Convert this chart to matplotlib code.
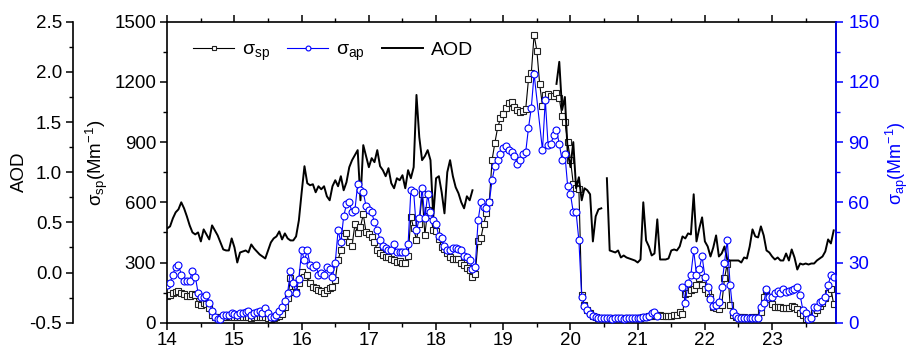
import numpy as np
import matplotlib
matplotlib.use("Agg")
import matplotlib.pyplot as plt
from matplotlib.ticker import MultipleLocator

plt.rcParams['font.family'] = ['Liberation Sans', 'DejaVu Sans']
plt.rcParams['mathtext.fontset'] = 'custom'
plt.rcParams['mathtext.rm'] = 'Liberation Sans'
plt.rcParams['mathtext.it'] = 'Liberation Sans:italic'
plt.rcParams['axes.unicode_minus'] = False

nan = np.nan

# hourly values, one list per day (day 14 ... day 23)
sp_14 = [135, 138, 146, 155, 160, 146, 141, 135, 133, 143, 138, 93, 88, 97, 93, 72, 38, 30, 22, 27, 30, 30, 32, 30]
sp_15 = [30, 28, 28, 30, 28, 26, 25, 27, 28, 30, 28, 26, 22, 20, 22, 26, 35, 42, 80, 121, 221, 155, 155, 200]
sp_16 = [254, 226, 237, 196, 180, 171, 163, 159, 150, 165, 175, 178, 215, 314, 360, 430, 445, 400, 383, 490, 445, 478, 540, 450]
sp_17 = [440, 427, 400, 362, 346, 337, 329, 329, 316, 310, 304, 308, 300, 296, 330, 528, 470, 412, 492, 641, 437, 561, 537, 462]
sp_18 = [458, 415, 379, 365, 346, 326, 316, 316, 316, 299, 287, 271, 265, 226, 245, 409, 420, 492, 548, 603, 811, 897, 973, 1018]
sp_19 = [1038, 1068, 1097, 1101, 1073, 1060, 1051, 1055, 1063, 1213, 1243, 1434, 1355, 1189, 1080, 1135, 1140, 1130, 1130, 1146, 1118, 1030, 1002, 900]
sp_20 = [811, 691, 669, 664, 138, 88, 63, 46, 35, 28, 25, 22, 22, 22, 21, 22, 22, 21, 22, 22, 21, 22, 22, 21]
sp_21 = [22, 25, 28, 30, 33, 35, 38, 38, 36, 35, 34, 35, 35, 36, 38, 55, 44, 141, 150, 163, 166, 190, 221, 188]
sp_22 = [170, 150, 130, 80, 73, 66, 87, 221, 295, 88, 40, 30, 28, 26, 26, 25, 25, 26, 27, 30, 55, 130, 163, 117]
sp_23 = [93, 80, 77, 77, 72, 75, 72, 82, 80, 66, 50, 37, 17, 25, 30, 47, 63, 82, 100, 124, 149, 170, 91]

ap_14 = [19, 20, 24, 28, 29, 24, 21, 21, 21, 26, 23, 15, 13, 13, 14, 10, 6, 3, 2, 2, 4, 4, 4, 5]
ap_15 = [4.5, 4, 5, 5, 5.5, 6, 4, 5, 5.5, 6, 5, 7.5, 5, 3, 3, 4, 6, 8, 11, 15, 26, 20, 15, 22]
ap_16 = [36, 31, 36, 29, 28, 29, 24, 25, 24, 28, 27, 23, 30, 46, 40, 53, 59, 60, 55, 56, 69, 66, 65, 58]
ap_17 = [56, 55, 50, 46, 41, 38, 37, 36, 36, 39, 35, 35, 35, 35, 39, 66, 65, 46, 52, 67, 52, 64, 55, 51]
ap_18 = [49, 43, 42, 38, 36, 36, 37, 37, 36.5, 36, 33, 32.6, 31, 27, 28, 51, 60, 57.5, 57, 60, 71, 78, 81, 84]
ap_19 = [87, 88, 86, 85, 83, 79, 81, 84, 85, 97, 107, 124, nan, nan, 86, 111, 88.5, 89, 93.5, 96, 89, 81, 84, 68]
ap_20 = [64, 55, 55, 41, 13, 8.3, 6.3, 4.3, 3.3, 2.8, 2.5, 2.5, 2.2, 2.2, 2.3, 2.0, 2.2, 2.4, 2.2, 2.0, 2.2, 2.3, 2.1, 2.2]
ap_21 = [2.3, 2.5, 3.0, 2.6, 3.2, 4.6, 5.5, 3.5, nan, nan, nan, nan, nan, nan, nan, nan, 18, 10, 20, 24, 36, 24, 27, 33]
ap_22 = [23, 18, 12, 8.3, 8.8, 10.5, 18, 30, 41, 19, 5.5, 3.3, 2.5, 2.4, 2.3, 2.2, 2.3, 2.2, 2.3, 2.5, 7.6, 9.6, 17, 13]
ap_23 = [13, 14.6, 16, 15, 16.6, 15.4, 16, 16.3, 17, 17.9, 13.8, 6.3, 5, 1.7, 2.2, 7.6, 7.8, 10.5, 11, 13, 18.8, 23.8, 23]

aod_14 = [0.44, 0.46, 0.54, 0.60, 0.63, 0.70, 0.64, 0.56, 0.47, 0.40, 0.38, 0.40, 0.31, 0.43, 0.38, 0.33, 0.47, 0.42, 0.37, 0.30, 0.23, 0.22, 0.22, 0.34]
aod_15 = [0.25, 0.10, 0.20, 0.21, 0.22, 0.20, 0.28, 0.24, 0.21, 0.18, 0.16, 0.14, 0.22, 0.30, 0.34, 0.36, 0.41, 0.33, 0.39, 0.34, 0.32, 0.32, 0.36, 0.52]
aod_16 = [0.80, 1.06, 0.89, 0.87, 0.88, 0.80, 0.86, 0.83, 0.86, 0.76, 0.72, 0.86, 0.92, 0.86, 0.96, 0.82, 0.90, 1.05, 1.12, 1.17, 1.22, 0.72, 1.27, 1.16]
aod_17 = [1.05, 1.14, 1.10, 1.22, 1.06, 1.02, 0.96, 1.04, 0.89, 0.84, 0.94, 0.92, 0.97, 0.84, 1.02, 0.94, 1.05, 1.77, 1.35, 1.12, 1.16, 1.22, 1.12, 0.56]
aod_18 = [0.94, 0.96, 0.80, 0.59, 1.00, 1.12, 0.96, 0.85, 0.79, 0.70, 0.64, 0.76, 0.72, 0.82] + [nan] * 10
aod_19 = [nan] * 19 + [1.88, 2.10, 1.62, 1.75, 1.20]
aod_20 = [1.05, 1.30, 0.84, 0.95, 0.72, 0.84, 0.82, 0.78, 0.31, 0.56, 0.63, 0.64, nan, 0.94, 0.22, 0.21, 0.20, 0.22, 0.15, 0.17, 0.15, 0.14, 0.13, 0.12]
aod_21 = [0.10, 0.13, 0.70, 0.32, 0.26, 0.17, 0.19, 0.53, 0.13, 0.13, 0.13, 0.14, 0.22, 0.23, 0.22, 0.26, 0.36, 0.34, 0.39, 0.38, 0.78, 0.31, 0.44, 0.55]
aod_22 = [0.31, 0.26, 0.16, 0.25, 0.37, 0.16, 0.19, 0.26, 0.13, 0.12, 0.12, 0.12, 0.12, 0.10, 0.15, 0.14, 0.26, 0.43, 0.36, 0.35, 0.46, 0.37, 0.22, 0.20]
aod_23 = [0.16, 0.13, 0.15, 0.12, 0.12, 0.19, 0.12, 0.23, 0.15, 0.03, 0.09, 0.08, 0.09, 0.08, 0.09, 0.09, 0.12, 0.14, 0.16, 0.21, 0.33, 0.29, 0.42]

sp = np.array(sp_14 + sp_15 + sp_16 + sp_17 + sp_18 + sp_19 + sp_20 + sp_21 + sp_22 + sp_23, float)
ap = np.array(ap_14 + ap_15 + ap_16 + ap_17 + ap_18 + ap_19 + ap_20 + ap_21 + ap_22 + ap_23, float)
aod = np.array(aod_14 + aod_15 + aod_16 + aod_17 + aod_18 + aod_19 + aod_20 + aod_21 + aod_22 + aod_23, float)
assert len(sp) == len(ap) == len(aod)

days = 14 + np.arange(len(sp)) / 24.0


def bridge_short_gaps(x, y, max_gap=3):
    # join points across short gaps, leave long gaps open
    idx = np.where(~np.isnan(y))[0]
    xs, ys = [], []
    for i, j in enumerate(idx):
        if i > 0 and j - idx[i - 1] > max_gap:
            xs.append(nan)
            ys.append(nan)
        xs.append(x[j])
        ys.append(y[j])
    return np.array(xs), np.array(ys)


BLUE = '#0000ff'
fs = 13.5

fig = plt.figure(figsize=(9.12, 3.54), dpi=100)
ax = fig.add_axes([0.1834, 0.0884, 0.7332, 0.8503])
ax_aod = ax.twinx()
ax_ap = ax.twinx()

# sigma_sp
xs, ys = bridge_short_gaps(days, sp)
l_sp, = ax.plot(xs, ys, color='k', lw=0.8, marker='s', ms=4.5,
                mfc='white', mec='#222222', mew=0.8)
# AOD
l_aod, = ax_aod.plot(days, aod, color='k', lw=1.4)
# sigma_ap
xs, ys = bridge_short_gaps(days, ap)
l_ap, = ax_ap.plot(xs, ys, color=BLUE, lw=0.8, marker='o', ms=5,
                   mfc='white', mec=BLUE, mew=0.8)

ax.set_xlim(14, 23.95)
ax.set_ylim(0, 1500)
ax_aod.set_ylim(-0.5, 2.5)
ax_ap.set_ylim(0, 150)

ax.xaxis.set_major_locator(MultipleLocator(1))
ax.xaxis.set_minor_locator(MultipleLocator(0.5))
ax.yaxis.set_major_locator(MultipleLocator(300))
ax.yaxis.set_minor_locator(MultipleLocator(150))
ax_aod.yaxis.set_major_locator(MultipleLocator(0.5))
ax_aod.yaxis.set_minor_locator(MultipleLocator(0.25))
ax_aod.yaxis.set_major_formatter(plt.FormatStrFormatter('%.1f'))
ax_ap.yaxis.set_major_locator(MultipleLocator(30))
ax_ap.yaxis.set_minor_locator(MultipleLocator(15))

for s in ax.spines.values():
    s.set_linewidth(1.2)
ax.tick_params(axis='both', which='major', direction='out', length=5, width=1.1,
               labelsize=fs, pad=3, top=True)
ax.tick_params(axis='both', which='minor', direction='out', length=3, width=1.0, top=True)
ax.tick_params(axis='x', which='both', labeltop=False)
ax.tick_params(axis='x', which='major', pad=2)
ax.tick_params(axis='y', which='both', right=False)

# AOD axis offset to the far left (94 px = 67.7 pt)
ax_aod.yaxis.tick_left()
ax_aod.yaxis.set_label_position('left')
ax_aod.spines['left'].set_position(('outward', 67.7))
ax_aod.spines['left'].set_visible(True)
ax_aod.spines['left'].set_linewidth(1.2)
for k in ('right', 'top', 'bottom'):
    ax_aod.spines[k].set_visible(False)
ax_aod.tick_params(axis='y', which='major', direction='out', length=5, width=1.1,
                   labelsize=fs, pad=3)
ax_aod.tick_params(axis='y', which='minor', direction='out', length=3, width=1.0)

# sigma_ap axis on the right, blue
for k in ('left', 'top', 'bottom'):
    ax_ap.spines[k].set_visible(False)
ax_ap.spines['right'].set_color(BLUE)
ax_ap.spines['right'].set_linewidth(1.2)
ax_ap.tick_params(axis='y', which='major', direction='out', length=5, width=1.1,
                  labelsize=fs, pad=4, colors=BLUE)
ax_ap.tick_params(axis='y', which='minor', direction='out', length=3, width=1.0, colors=BLUE)

ax_aod.set_ylabel('AOD', fontsize=fs)
ax_aod.yaxis.set_label_coords(-0.208, 0.5)
ax.set_ylabel('σ$_{\\rm sp}$(Mm$^{-1}$)', fontsize=fs)
ax.yaxis.set_label_coords(-0.085, 0.53)
ax_ap.set_ylabel('σ$_{\\rm ap}$(Mm$^{-1}$)', fontsize=13, color=BLUE)
ax_ap.yaxis.set_label_coords(1.071, 0.53)

ax_ap.legend([l_sp, l_ap, l_aod],
             ['σ$_{\\rm sp}$', 'σ$_{\\rm ap}$', 'AOD'],
             loc='center left', bbox_to_anchor=(0.027, 0.9), ncol=3, frameon=False,
             fontsize=14, handlelength=2.1, handletextpad=0.4, columnspacing=0.9,
             markerscale=0.7, borderaxespad=0.0)

fig.savefig('out.png', dpi=100)
